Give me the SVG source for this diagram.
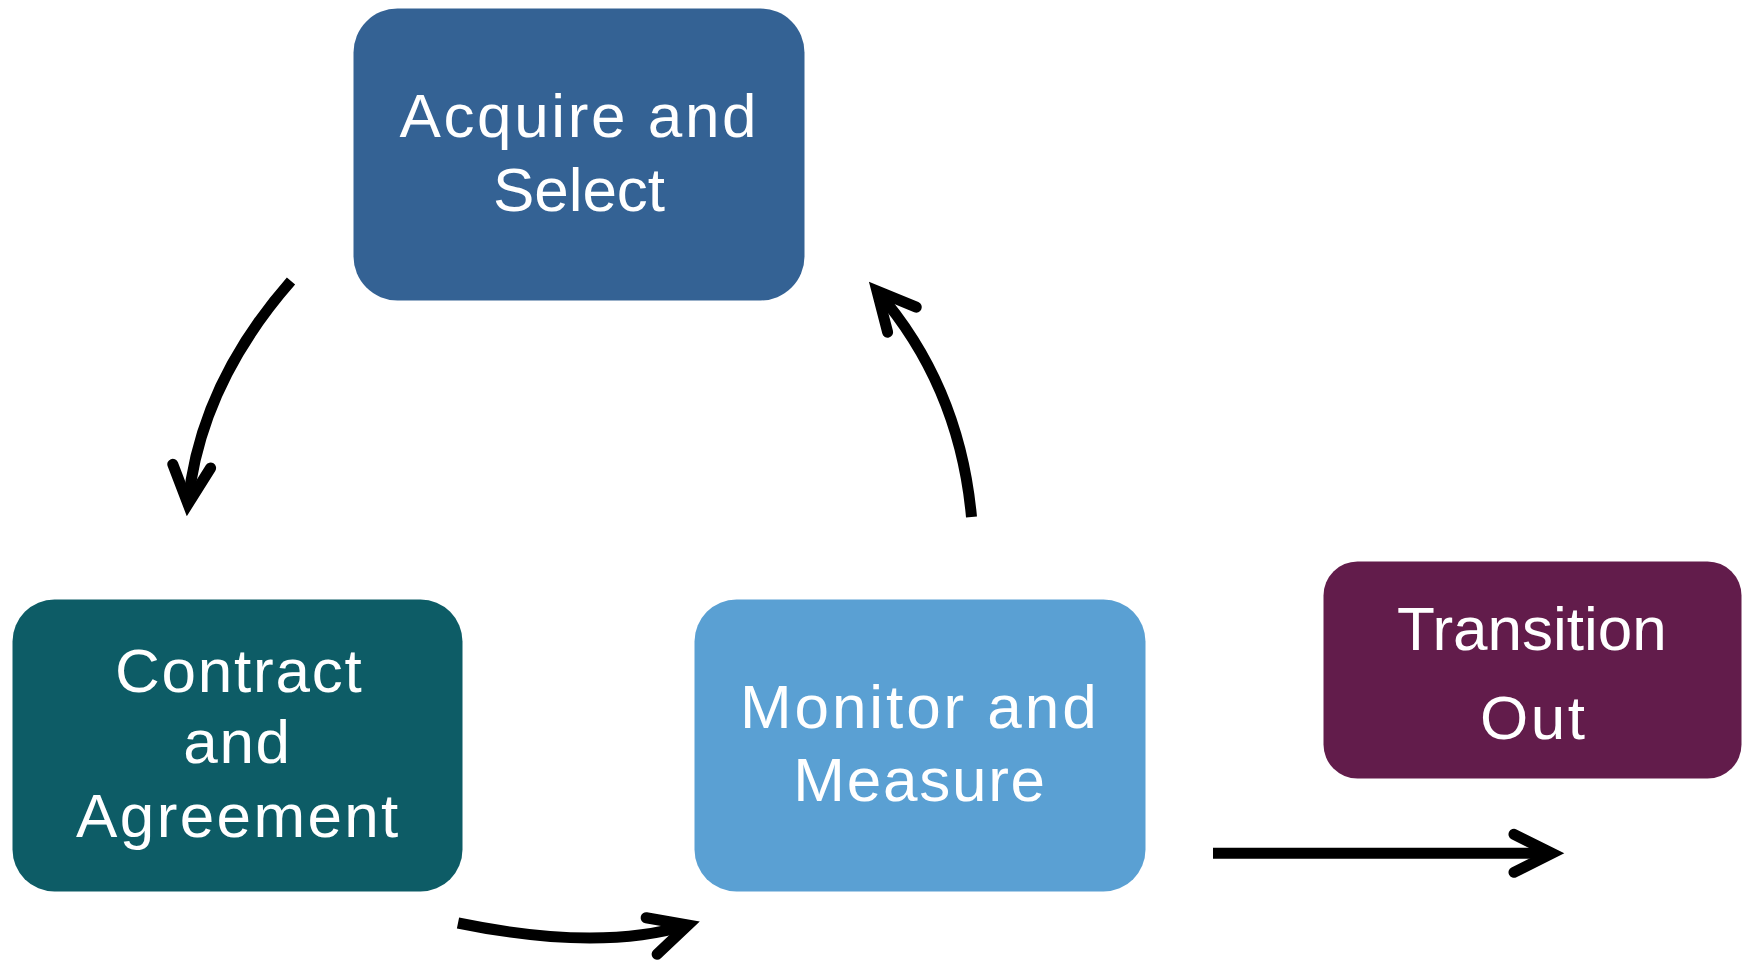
<svg xmlns="http://www.w3.org/2000/svg" width="1743" height="962" viewBox="0 0 1743 962">
<style>
.lbl{font-family:"Liberation Sans",Arial,sans-serif;font-size:62px;fill:#ffffff;text-anchor:middle}
.conn{fill:none;stroke:#000;stroke-width:11;stroke-linecap:butt}
</style>
<defs>
<marker id="chev" markerUnits="userSpaceOnUse" orient="auto" refX="0" refY="0" markerWidth="100" markerHeight="100" viewBox="-50 -50 100 100" overflow="visible">
<path d="M-38,-19 L0,0 L-38,19" fill="none" stroke="#000" stroke-width="11" stroke-linecap="round" stroke-linejoin="miter" stroke-miterlimit="10"/>
</marker>
</defs>
<rect width="1743" height="962" fill="#ffffff"/>
<g id="node-acquire">
<rect x="353.5" y="8.5" width="451" height="292" rx="44" fill="#346294"/>
<text class="lbl" x="578" y="136.7" textLength="357" lengthAdjust="spacing">Acquire and</text>
<text class="lbl" x="579" y="210.7" textLength="172" lengthAdjust="spacing">Select</text>
</g>
<g id="node-contract">
<rect x="12.5" y="599.5" width="450" height="292" rx="42" fill="#0d5c66"/>
<text class="lbl" x="238.3" y="691.7" textLength="246.7" lengthAdjust="spacing">Contract</text>
<text class="lbl" x="236.7" y="763.3" textLength="106.7" lengthAdjust="spacing">and</text>
<text class="lbl" x="237.2" y="836.7" textLength="322.3" lengthAdjust="spacing">Agreement</text>
</g>
<g id="node-monitor">
<rect x="694.5" y="599.5" width="451" height="292" rx="42" fill="#5aa0d3"/>
<text class="lbl" x="918.3" y="727.7" textLength="356.7" lengthAdjust="spacing">Monitor and</text>
<text class="lbl" x="919.2" y="801" textLength="251.7" lengthAdjust="spacing">Measure</text>
</g>
<g id="node-transition">
<rect x="1323.5" y="561.5" width="418" height="217" rx="34" fill="#621c4b"/>
<text class="lbl" x="1531.8" y="650" textLength="269.7" lengthAdjust="spacing">Transition</text>
<text class="lbl" x="1532.5" y="739.3" textLength="105" lengthAdjust="spacing">Out</text>
</g>
<g id="connectors">
<path class="conn" d="M291,281 Q199.6,385.3 188,504" marker-end="url(#chev)"/>
<path class="conn" d="M971.5,517 Q959.5,385.8 877,291" marker-end="url(#chev)"/>
<path class="conn" d="M458,923 Q598.4,952 688,925" marker-end="url(#chev)"/>
<path class="conn" d="M1213,853.3 L1552,853.3" marker-end="url(#chev)"/>
</g>
</svg>
